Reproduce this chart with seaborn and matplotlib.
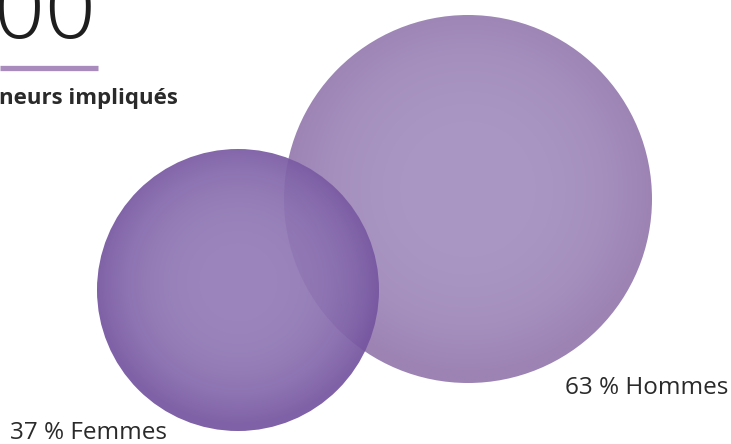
import numpy as np
import matplotlib
matplotlib.use("Agg")
import matplotlib.pyplot as plt
from matplotlib.patches import Circle
import matplotlib.colors as mcolors
import seaborn as sns

# ---- data ----
categories = ["Hommes", "Femmes"]
shares = [63, 37]
labels = ["63 % Hommes", "37 % Femmes"]
headline_number = "00"
headline_caption = "neurs impliqués"

# ---- layout / style ----
W, H = 731, 444
centers = {"Hommes": (468, 199), "Femmes": (238, 290)}
scale_k = 184 / np.sqrt(63)          # radius (px) = k * sqrt(share)  -> area proportional
inner_cols = {"Hommes": "#aa97c3", "Femmes": "#9b85bc"}
outer_cols = {"Hommes": "#9c83b4", "Femmes": "#7f61a7"}
alphas = {"Hommes": 1.0, "Femmes": 0.93}
zorders = {"Hommes": 1, "Femmes": 2}

sns.set_theme(style="white")
plt.rcParams["font.family"] = ["Open Sans", "DejaVu Sans"]

fig = plt.figure(figsize=(W / 100, H / 100), dpi=100)
ax = fig.add_axes([0, 0, 1, 1])


def radial_fill(ax, cx, cy, r, inner, outer, zorder, alpha):
    n = 500
    xs = np.linspace(cx - r, cx + r, n)
    ys = np.linspace(cy - r, cy + r, n)
    X, Y = np.meshgrid(xs, ys)
    d = np.sqrt((X - cx) ** 2 + (Y - (cy - 0.05 * r)) ** 2) / r
    t = np.clip(d, 0, 1) ** 3.0
    ci = np.array(mcolors.to_rgb(inner))
    co = np.array(mcolors.to_rgb(outer))
    if alpha < 1:
        ci = np.clip((ci - (1 - alpha)) / alpha, 0, 1)
        co = np.clip((co - (1 - alpha)) / alpha, 0, 1)
    rgb = ci[None, None, :] * (1 - t[..., None]) + co[None, None, :] * t[..., None]
    im = ax.imshow(rgb, extent=(cx - r, cx + r, cy + r, cy - r), origin="upper",
                   zorder=zorder, alpha=alpha, interpolation="bilinear")
    circ = Circle((cx, cy), r, transform=ax.transData, facecolor="none",
                  edgecolor="none")
    ax.add_patch(circ)
    im.set_clip_path(circ)


for cat, val in zip(categories, shares):
    cx, cy = centers[cat]
    r = scale_k * np.sqrt(val)
    radial_fill(ax, cx, cy, r, inner_cols[cat], outer_cols[cat], zorders[cat], alphas[cat])

# labels
ax.text(728, 394, labels[0], ha="right", va="baseline", fontsize=17.5,
        color="#2a2a2a", zorder=5)
ax.text(10, 439, labels[1], ha="left", va="baseline", fontsize=17.5,
        color="#2a2a2a", zorder=5)

# headline block (cropped at the left/top)
ax.text(96, 38, headline_number, ha="right", va="baseline", fontsize=64,
        fontweight="light", color="#1e1e1e", zorder=5)
ax.plot([0, 98], [68.5, 68.5], color="#a98bbd", lw=3.8, solid_capstyle="butt", zorder=5)
ax.text(-1, 104, headline_caption, ha="left", va="baseline", fontsize=16,
        fontweight="bold", color="#2a2a2a", zorder=5)

ax.set_xlim(0, W)
ax.set_ylim(H, 0)
ax.set_aspect("auto")
ax.axis("off")

fig.savefig("out.png", dpi=100, facecolor="white")
